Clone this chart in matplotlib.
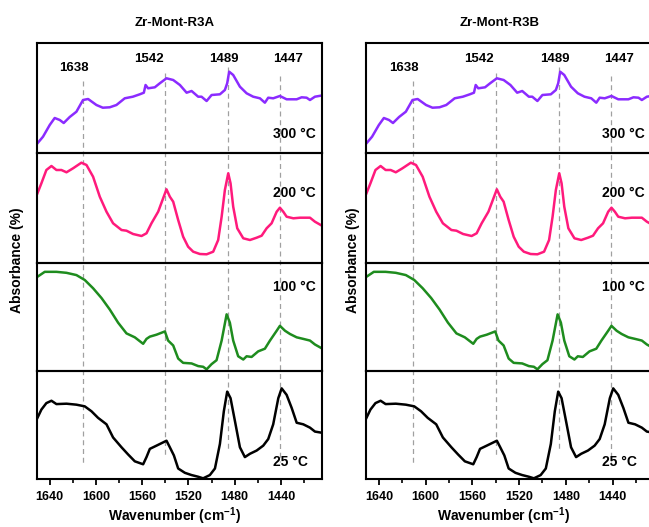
import matplotlib
matplotlib.use('Agg')
import matplotlib.pyplot as plt
from matplotlib.ticker import MultipleLocator

plt.rcParams['font.family'] = ['Liberation Sans', 'DejaVu Sans']
plt.rcParams['font.weight'] = 'bold'
plt.rcParams['mathtext.fontset'] = 'custom'
plt.rcParams['mathtext.rm'] = 'Liberation Sans:bold'
plt.rcParams['mathtext.it'] = 'Liberation Sans:bold'
plt.rcParams['mathtext.bf'] = 'Liberation Sans:bold'

# spectra: wavenumber (cm-1) and absorbance (a.u.)
wn_300 = [1650.6, 1645.8, 1640, 1635.7, 1631.3, 1627.9, 1622.7, 1616.9, 1611.2, 1606.8,
          1599.6, 1594.1, 1588.1, 1582.3, 1575.1, 1568.1, 1562.1, 1558.6, 1557.1, 1554.9,
          1549.1, 1544.8, 1539.0, 1533.2, 1527.4, 1521.6, 1517.3, 1511.6, 1508.7, 1504.3,
          1500.0, 1492.8, 1488.5, 1486.5, 1484.8, 1481.3, 1475.5, 1469.7, 1464.0, 1458.2,
          1453.9, 1451.0, 1446.7, 1440.9, 1435.1, 1426.4, 1422.1, 1417.8, 1414.9, 1410.6, 1405.6]
ab_300 = [9.7, 16.3, 28, 35, 33, 30, 36, 41.3, 53, 54,
          48, 45.3, 45.7, 48, 54.7, 56.3, 58.7, 60.3, 68, 64.7,
          65.7, 69.7, 74.7, 73, 68, 60.3, 62, 56.3, 56.3, 52,
          58, 58.7, 63, 69.7, 81.3, 78, 66.3, 59.7, 56.3, 54.7,
          50.3, 55.3, 54.7, 57, 53.7, 53.7, 55.7, 55.3, 53, 56.3, 57.3]

wn_200 = [1650.6, 1647.2, 1642.9, 1638.5, 1634.2, 1629.9, 1625.5, 1619.8, 1612.6, 1608.2,
          1602.5, 1596.7, 1590.9, 1585.2, 1577.9, 1573.6, 1567.9, 1560.6, 1556.3, 1552.0,
          1546.2, 1541.9, 1539.0, 1536.1, 1533.2, 1528.9, 1524.6, 1520.3, 1515.9, 1510.1,
          1504.3, 1498.6, 1494.3, 1491.3, 1488.5, 1485.6, 1483.6, 1481.3, 1477.8, 1472.6,
          1466.8, 1461.0, 1456.7, 1452.4, 1448.1, 1443.7, 1440.9, 1438.0, 1435.1, 1429.3,
          1423.5, 1414.9, 1410.6, 1405.6]
ab_200 = [69.7, 79.7, 93, 97, 93, 93, 90.7, 94.7, 100.3, 98,
          86.3, 66.3, 51.3, 39.7, 33, 32.3, 29, 27, 29.7, 39.7,
          51.3, 64.7, 73.7, 66.3, 61.3, 43, 26.3, 16.3, 11.3, 9,
          8.7, 11.3, 23, 46.3, 73, 89.7, 79.7, 56.3, 34.7, 24.7,
          23, 25.3, 27.3, 34.7, 39.7, 51.3, 55.3, 51.3, 46.3, 44.7,
          45.3, 45.3, 41.3, 38]

wn_100 = [1650.6, 1644.3, 1634.2, 1625.5, 1616.9, 1609.7, 1602.5, 1595.2, 1588.1, 1580.9,
          1573.6, 1566.4, 1559.2, 1556.3, 1553.4, 1547.6, 1540.4, 1537.6, 1533.2, 1528.9,
          1524.6, 1517.3, 1511.6, 1507.3, 1504.3, 1500.0, 1495.7, 1491.3, 1487.0, 1484.2,
          1481.3, 1477.0, 1472.6, 1469.7, 1465.4, 1459.7, 1453.9, 1449.5, 1443.7, 1440.9,
          1436.5, 1432.2, 1426.4, 1420.7, 1414.9, 1410.6, 1405.6]
ab_100 = [96, 101, 101, 100, 97.7, 92.7, 84.3, 74.3, 62.7, 49.3,
          38.3, 34.3, 27.7, 32.7, 35, 37, 40.3, 31, 26, 12.7,
          8.3, 7.7, 5, 4.3, 1.7, 7, 11, 31, 57.7, 49.3,
          31, 15, 11.7, 15, 14.3, 20, 22.7, 31, 41, 46,
          41, 37.7, 34.3, 32.7, 31, 27, 23.7]

wn_25 = [1650.6, 1647.2, 1642.9, 1638.5, 1634.2, 1625.5, 1616.9, 1609.7, 1603.9, 1598.2,
         1590.9, 1585.2, 1577.9, 1572.2, 1566.4, 1559.2, 1556.3, 1553.4, 1547.6, 1541.9,
         1539.0, 1536.1, 1532.6, 1528.9, 1523.1, 1517.3, 1511.6, 1507.3, 1501.5, 1497.1,
         1492.8, 1489.4, 1486.5, 1483.6, 1479.8, 1475.5, 1471.2, 1466.8, 1461.0, 1455.3,
         1451.0, 1446.7, 1442.3, 1439.4, 1435.1, 1430.7, 1426.4, 1420.7, 1414.9, 1410.6, 1405.6]
ab_25 = [62.3, 70.7, 77.3, 79.7, 76.3, 76.7, 75.7, 74, 69, 62.3,
         55.7, 42.3, 32.3, 25, 18, 15, 22.3, 30.7, 34, 37.3,
         39, 32.3, 24, 10.7, 6.3, 4, 2.3, 0.7, 4, 10.7,
         35.7, 69, 89, 82.3, 59, 32.3, 22.3, 25.7, 29, 34,
         40.7, 55.7, 82.3, 92.3, 85.7, 72.3, 57.3, 55.7, 52.3, 48.3, 47.3]

temps = ['300 °C', '200 °C', '100 °C', '25 °C']
colors = ['#8B2BFF', '#FF1A7C', '#1E8C1E', 'black']
spectra = [(wn_300, ab_300), (wn_200, ab_200), (wn_100, ab_100), (wn_25, ab_25)]

peak_labels = ['1638', '1542', '1489', '1447']
peak_lines = [1611, 1540, 1486, 1441]
peak_label_x = [1619, 1554, 1489, 1434]

titles = ['Zr-Mont-R3A', 'Zr-Mont-R3B']
xticks = [1640, 1600, 1560, 1520, 1480, 1440]

W, H = 649, 527
fig = plt.figure(figsize=(W / 100, H / 100), dpi=100)


def fx(x):
    return x / W


def fy(y):
    return 1 - y / H


rows = [(43, 153), (153, 263), (263, 371), (371, 479)]
XLIM = (1651, 1404.5)

# layout of each panel: left edge, width, title x, y-label x (pixels)
panels = [(37, 285, 175, 17), (366, 288, 500, 353)]

for (x0, width, tx, yx), title in zip(panels, titles):
    # dashed guides across the stacked spectra
    guide = fig.add_axes([fx(x0), fy(479), width / W, (479 - 43) / H])
    guide.set_xlim(XLIM)
    guide.set_ylim(479, 43)
    guide.axis('off')
    tops = [81, 73, 67, 76]
    bots = [465, 457, 450, 462]
    label_y = [68, 59, 59, 59]
    for wl, top, bot, lab, lx, ly in zip(peak_lines, tops, bots, peak_labels, peak_label_x, label_y):
        guide.plot([wl, wl], [top, bot], ls=(0, (4, 3)), color='#a0a0a0', lw=0.9)
        guide.text(lx, ly, lab, ha='center', va='center', fontsize=9.5, fontweight='bold')

    temp_y = [134, 193, 287, 462]
    for i, ((top, bot), (wn, ab)) in enumerate(zip(rows, spectra)):
        ax = fig.add_axes([fx(x0), fy(bot), width / W, (bot - top) / H])
        ax.patch.set_alpha(0)
        ax.plot(wn, ab, color=colors[i], lw=1.8)
        ax.set_xlim(XLIM)
        ax.set_ylim(0, 110)
        for s in ax.spines.values():
            s.set_linewidth(1.5)
        ax.set_yticks([])
        if i < 3:
            ax.set_xticks([])
        else:
            ax.set_xticks(xticks)
            ax.xaxis.set_minor_locator(MultipleLocator(20))
            ax.tick_params(axis='x', which='major', direction='out', length=4, width=1.3,
                           labelsize=9, pad=5)
            ax.tick_params(axis='x', which='minor', direction='out', length=3, width=1.2)
            for lbl in ax.get_xticklabels():
                lbl.set_fontweight('bold')
        fig.text(fx(x0 + 236), fy(temp_y[i]), temps[i], ha='left', va='center',
                 fontsize=10, fontweight='bold')

    fig.text(fx(tx), fy(23), title, ha='center', va='center', fontsize=9.5, fontweight='bold')
    fig.text(fx(yx), fy(260), 'Absorbance (%)', rotation=90, ha='center', va='center',
             fontsize=10, fontweight='bold')
    fig.text(fx(x0 + 138), fy(516), 'Wavenumber (cm$^{-1}$)', ha='center', va='center',
             fontsize=10, fontweight='bold')

fig.savefig('out.png', dpi=100)
